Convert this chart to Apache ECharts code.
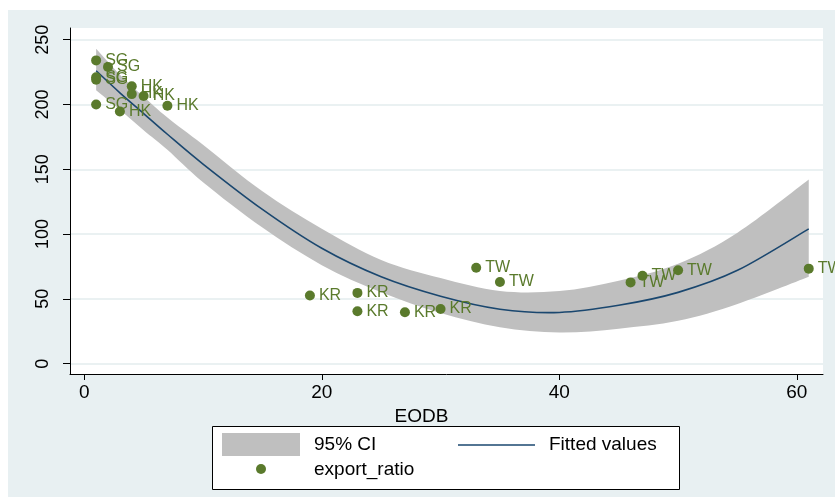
<!DOCTYPE html>
<html>
<head>
<meta charset="utf-8">
<script src="https://cdn.jsdelivr.net/npm/echarts@6/dist/echarts.min.js"></script>
<style>
html,body{margin:0;padding:0;background:#fff;}
#chart{width:835px;height:497px;}
</style>
</head>
<body>
<div id="chart"></div>
<script>
// ---- data ----
const country = ['SG','SG','SG','SG','SG','HK','HK','HK','HK','HK','KR','KR','KR','KR','KR','TW','TW','TW','TW','TW','TW'];
const eodb = [1,2,1,1,1, 4,4,5,7,3, 19,23,23,27,30, 33,35,46,47,50,61];
const exportRatio = [234,229,221,219,200, 214,208,206.5,199,194.5, 52.6,54.6,40.4,39.6,42.2, 74,63,62.7,67.8,72,73.3];

const fitX = [1,3,5,7,10,15,20,25,30,35,40,45,50,55,61];
const fitY = [226,209,193,177,154,119,89,67,52,42,39.5,45,55,72,104];
const ciLower = [211,196,180,165,140,105,76,55,39,28,24,27,33,46,67];
const ciUpper = [243,223,206,190,169,133,104,80,66,56,56,64,77,101,142];

const xTicks = [0,20,40,60];
const yTicks = [0,50,100,150,200,250];
const xTitle = 'EODB';
const legendNames = ['95% CI','Fitted values','export_ratio'];

// ---- styles ----
const FONT = 'Liberation Sans, Arial, sans-serif';
const BG = '#e8f0f2';
const GRID = '#e3ecee';
const GREEN = '#5a7a2c';
const NAVY = '#1a476f';
const CI = '#bfbfbf';

const chart = echarts.init(document.getElementById('chart'));

const ciData = fitX.map((x,i)=>[x, ciLower[i], ciUpper[i]]);
const fitData = fitX.map((x,i)=>[x, fitY[i]]);
const scatterData = eodb.map((x,i)=>[x, exportRatio[i], country[i]]);

// Catmull-Rom spline through pixel points -> SVG path commands (no leading M)
function splineCmds(pts){
  let s = '';
  const n = pts.length;
  for (let i = 0; i < n - 1; i++) {
    const p0 = pts[Math.max(i-1,0)], p1 = pts[i], p2 = pts[i+1], p3 = pts[Math.min(i+2,n-1)];
    const c1x = p1[0] + (p2[0]-p0[0])/6, c1y = p1[1] + (p2[1]-p0[1])/6;
    const c2x = p2[0] - (p3[0]-p1[0])/6, c2y = p2[1] - (p3[1]-p1[1])/6;
    s += ' C' + c1x + ' ' + c1y + ' ' + c2x + ' ' + c2y + ' ' + p2[0] + ' ' + p2[1];
  }
  return s;
}

function renderBand(params, api){
  if (params.dataIndex !== 0) return;
  const up = ciData.map(d => api.coord([d[0], d[2]]));
  const lo = ciData.map(d => api.coord([d[0], d[1]])).reverse();
  let d = 'M' + up[0][0] + ' ' + up[0][1] + splineCmds(up);
  d += ' L' + lo[0][0] + ' ' + lo[0][1] + splineCmds(lo) + ' Z';
  return {type:'path', shape:{pathData:d}, style:{fill:CI, stroke:null}};
}

function renderFit(params, api){
  if (params.dataIndex !== 0) return;
  const pts = fitData.map(d => api.coord(d));
  const d = 'M' + pts[0][0] + ' ' + pts[0][1] + splineCmds(pts);
  return {type:'path', shape:{pathData:d}, style:{fill:null, stroke:NAVY, lineWidth:1.6}};
}

chart.setOption({
  backgroundColor: BG,
  animation: false,
  textStyle: {fontFamily: FONT},
  grid: {left:70, top:28, right:12, bottom:123, show:true, backgroundColor:'#ffffff', borderWidth:0},
  xAxis: {
    type:'value', min:-1.2, max:62.2,
    name: xTitle, nameLocation:'middle', nameGap:27,
    nameTextStyle:{fontSize:19, color:'#000', fontFamily:FONT, padding:[0,50,0,0]},
    axisLine:{show:true, onZero:false, lineStyle:{color:'#000', width:1}},
    axisTick:{show:true, length:6, customValues:xTicks, lineStyle:{color:'#000'}},
    axisLabel:{customValues:xTicks, fontSize:19, color:'#000', margin:9, fontFamily:FONT},
    splitLine:{show:false}
  },
  yAxis: {
    type:'value', min:-8, max:259,
    axisLine:{show:true, onZero:false, lineStyle:{color:'#000', width:1}},
    axisTick:{show:true, length:7, customValues:yTicks, lineStyle:{color:'#000'}},
    axisLabel:{customValues:yTicks, rotate:90, fontSize:18, color:'#000', margin:18, fontFamily:FONT},
    splitLine:{show:true, lineStyle:{color:GRID, width:1.5}}
  },
  series: [
    {name:legendNames[0], type:'custom', data:ciData, renderItem:renderBand, silent:true,
     encode:{x:0, y:[1,2]}, clip:true},
    {name:legendNames[1], type:'custom', data:fitData, renderItem:renderFit, silent:true,
     encode:{x:0, y:1}, clip:true},
    {name:legendNames[2], type:'scatter', data:scatterData, symbolSize:10,
     itemStyle:{color:GREEN, opacity:1},
     label:{show:true, position:'right', distance:4, formatter:p=>p.data[2],
            color:GREEN, fontSize:16, fontFamily:FONT}}
  ],
  graphic: [
    {type:'rect', shape:{x:0,y:0,width:835,height:10}, style:{fill:'#fff'}, silent:true},
    {type:'rect', shape:{x:0,y:0,width:8,height:497}, style:{fill:'#fff'}, silent:true},
    // legend box
    {type:'rect', shape:{x:212.5,y:426.5,width:467,height:63}, style:{fill:'#fff', stroke:'#000', lineWidth:1}},
    {type:'rect', shape:{x:222,y:433,width:78,height:23}, style:{fill:CI}},
    {type:'text', x:314, y:445, style:{text:legendNames[0], fontSize:19, fontFamily:FONT, fill:'#000', textVerticalAlign:'middle'}},
    {type:'line', shape:{x1:458,y1:445,x2:535,y2:445}, style:{stroke:NAVY, lineWidth:1.6}},
    {type:'text', x:549, y:445, style:{text:legendNames[1], fontSize:19, fontFamily:FONT, fill:'#000', textVerticalAlign:'middle'}},
    {type:'circle', shape:{cx:261, cy:469, r:5}, style:{fill:GREEN}},
    {type:'text', x:314, y:470, style:{text:legendNames[2], fontSize:19, fontFamily:FONT, fill:'#000', textVerticalAlign:'middle'}}
  ]
});
</script>
</body>
</html>
